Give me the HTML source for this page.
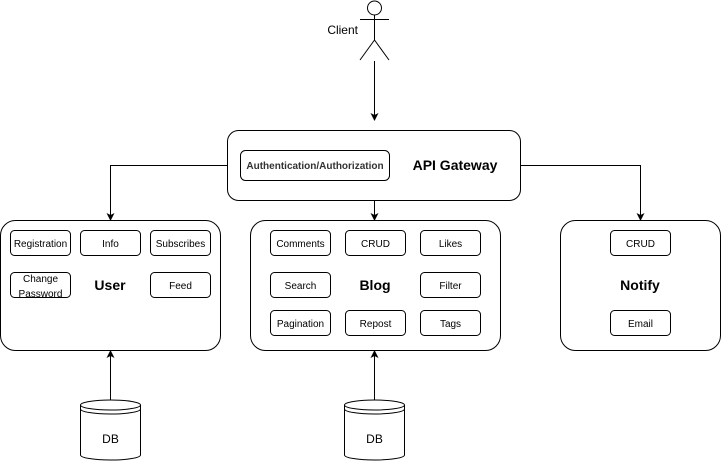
<!DOCTYPE html>
<html><head><meta charset="utf-8"><style>
html,body{margin:0;padding:0;background:#fff;}
svg{display:block;font-family:"Liberation Sans",Arial,sans-serif;}
</style></head><body>
<svg width="721" height="461" viewBox="0 0 721 461" xmlns="http://www.w3.org/2000/svg">
<defs><marker id="a" markerWidth="8" markerHeight="8" refX="7" refY="4" orient="auto" markerUnits="userSpaceOnUse"><path d="M0,0 L8,4 L0,8 L2,4 Z" fill="#000"/></marker></defs>
<g fill="none" stroke="#000" stroke-width="1">
<circle cx="374.5" cy="8" r="7"/>
<line x1="374.5" y1="15" x2="374.5" y2="40"/>
<line x1="360" y1="19.5" x2="389" y2="19.5"/>
<line x1="374.5" y1="40" x2="360" y2="60"/>
<line x1="374.5" y1="40" x2="389" y2="60"/>
<line x1="374.5" y1="61" x2="374.5" y2="120" marker-end="url(#a)"/>
<rect x="227.5" y="130.5" width="293" height="70" rx="11"/>
<rect x="240.5" y="150.5" width="149" height="30" rx="5"/>
<polyline points="227.5,165.5 110.5,165.5 110.5,220" marker-end="url(#a)"/>
<line x1="374.5" y1="200.5" x2="374.5" y2="220" marker-end="url(#a)"/>
<polyline points="520.5,165.5 640.5,165.5 640.5,220" marker-end="url(#a)"/>
<rect x="0.5" y="220.5" width="220" height="130" rx="15"/>
<rect x="250.5" y="220.5" width="250" height="130" rx="15"/>
<rect x="560.5" y="220.5" width="160" height="130" rx="15"/>
<rect x="10.5" y="230.5" width="60" height="25" rx="4"/>
<rect x="80.5" y="230.5" width="60" height="25" rx="4"/>
<rect x="150.5" y="230.5" width="60" height="25" rx="4"/>
<rect x="10.5" y="272.5" width="60" height="25" rx="4"/>
<rect x="150.5" y="272.5" width="60" height="25" rx="4"/>
<rect x="270.5" y="230.5" width="60" height="25" rx="4"/>
<rect x="345.5" y="230.5" width="60" height="25" rx="4"/>
<rect x="420.5" y="230.5" width="60" height="25" rx="4"/>
<rect x="270.5" y="272.5" width="60" height="25" rx="4"/>
<rect x="420.5" y="272.5" width="60" height="25" rx="4"/>
<rect x="270.5" y="310.5" width="60" height="25" rx="4"/>
<rect x="345.5" y="310.5" width="60" height="25" rx="4"/>
<rect x="420.5" y="310.5" width="60" height="25" rx="4"/>
<rect x="610.5" y="230.5" width="60" height="25" rx="4"/>
<rect x="610.5" y="310.5" width="60" height="25" rx="4"/>
<line x1="110.5" y1="400" x2="110.5" y2="351" marker-end="url(#a)"/>
<line x1="374.5" y1="400" x2="374.5" y2="351" marker-end="url(#a)"/>
<g>
<path d="M80.5,405 A30,5 0 0 1 140.5,405 L140.5,455 A30,5 0 0 1 80.5,455 Z" fill="#fff"/>
<path d="M80.5,405 A30,5 0 0 0 140.5,405"/>
<path d="M80.5,409 A30,5 0 0 0 140.5,409"/>
</g>
<g>
<path d="M344.5,405 A30,5 0 0 1 404.5,405 L404.5,455 A30,5 0 0 1 344.5,455 Z" fill="#fff"/>
<path d="M344.5,405 A30,5 0 0 0 404.5,405"/>
<path d="M344.5,409 A30,5 0 0 0 404.5,409"/>
</g>
</g>
<g font-size="10" fill="#000" text-anchor="middle">
<text x="358" y="34" text-anchor="end" font-size="12">Client</text>
<text x="315" y="169" font-size="10" font-weight="bold" fill="#333">Authentication/Authorization</text>
<text x="455" y="170" font-size="14" font-weight="bold">API Gateway</text>
<text x="40.5" y="247">Registration</text>
<text x="110.5" y="247">Info</text>
<text x="180.5" y="247">Subscribes</text>
<text x="40.5" y="282">Change</text>
<text x="40.5" y="297">Password</text>
<text x="180.5" y="289">Feed</text>
<text x="110" y="290" font-size="14" font-weight="bold">User</text>
<text x="300.5" y="247">Comments</text>
<text x="375.5" y="247">CRUD</text>
<text x="450.5" y="247">Likes</text>
<text x="300.5" y="289">Search</text>
<text x="450.5" y="289">Filter</text>
<text x="375" y="290" font-size="14" font-weight="bold">Blog</text>
<text x="300.5" y="327">Pagination</text>
<text x="375.5" y="327">Repost</text>
<text x="450.5" y="327">Tags</text>
<text x="640.5" y="247">CRUD</text>
<text x="640" y="290" font-size="14" font-weight="bold">Notify</text>
<text x="640.5" y="327">Email</text>
<text x="110.5" y="443" font-size="12">DB</text>
<text x="374.5" y="443" font-size="12">DB</text>
</g>
</svg>
</body></html>
